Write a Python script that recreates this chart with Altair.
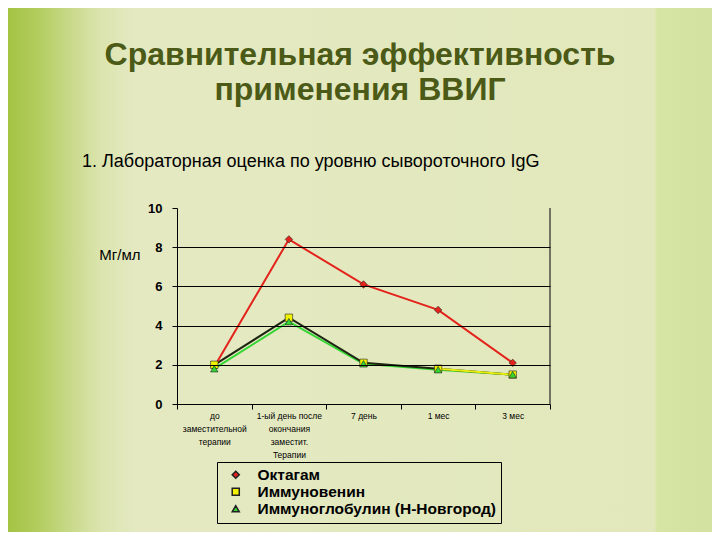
import altair as alt
import pandas as pd

# ---- data ----
CATEGORIES = [
    "до\nзаместительной\nтерапии",
    "1-ый день после\nокончания\nзаместит.\nТерапии",
    "7 день",
    "1 мес",
    "3 мес",
]
SERIES = ["Октагам", "Иммуновенин", "Иммуноглобулин (Н-Новгород)"]
OCTAGAM = [1.9, 8.4, 6.1, 4.8, 2.1]
IMMUNOVENIN = [2.0, 4.4, 2.1, 1.8, 1.5]
IMMUNOGLOBULIN = [1.8, 4.2, 2.05, 1.75, 1.5]
Y_TICKS = [0, 2, 4, 6, 8, 10]
YELLOW_SEGMENT = ["1 мес", "3 мес"]

TITLE_1 = "Сравнительная эффективность"
TITLE_2 = "применения ВВИГ"
SUBTITLE = "1. Лабораторная оценка по уровню сывороточного IgG"
Y_TITLE = "Мг/мл"

COLORS = ["#e3231c", "#f2f200", "#33d633"]
LINE_COLORS = ["#e3231c", "#1d2410", "#33d633"]
SHAPES = ["diamond", "square", "triangle-up"]

rows = []
for name, vals in zip(SERIES, [OCTAGAM, IMMUNOVENIN, IMMUNOGLOBULIN]):
    for c, v in zip(CATEGORIES, vals):
        rows.append({"series": name, "cat": c, "value": v})
df = pd.DataFrame(rows)

W, H = 373, 196
FONT = "Liberation Sans"

x_enc = alt.X(
    "cat:N",
    sort=CATEGORIES,
    scale=alt.Scale(type="band", paddingInner=0, paddingOuter=0),
    axis=alt.Axis(
        title=None, labelAngle=0, labelExpr="split(datum.label, '\\n')",
        labelFontSize=8.5, labelLineHeight=13, labelFont=FONT, labelColor="black",
        tickBand="extent", tickColor="black", tickSize=5, domainColor="black",
        labelPadding=2, grid=False, labelLimit=200, zindex=2,
    ),
)
y_scale = alt.Scale(domain=[0, 10], nice=False)
y_enc = alt.Y(
    "value:Q",
    scale=y_scale,
    axis=alt.Axis(
        values=Y_TICKS, title=Y_TITLE, titleAngle=0, titleX=-37, titleY=51,
        titleAlign="right", titleBaseline="alphabetic", titleFontWeight="normal",
        titleFontSize=15, titleFont=FONT, titleColor="black",
        labelFontSize=13, labelFontWeight="bold", labelFont=FONT, labelColor="black",
        labelPadding=10, tickSize=5, tickColor="black", domainColor="black",
        grid=True, gridWidth=1,
        gridColor={"condition": {"test": "datum.value <= 0 || datum.value >= 10",
                                 "value": "transparent"}, "value": "black"},
        labelFlush=False, labelOverlap=False, zindex=2,
    ),
)

one = alt.Data(values=[{"k": 1}])

bg = alt.Chart(one).mark_rect(
    fill=alt.Gradient(
        gradient="linear", x1=0, x2=1, y1=0, y2=0,
        stops=[
            alt.GradientStop(offset=0.0, color="#a4c444"),
            alt.GradientStop(offset=0.04, color="#b2cc5c"),
            alt.GradientStop(offset=0.08, color="#c4d782"),
            alt.GradientStop(offset=0.13, color="#dbe4ad"),
            alt.GradientStop(offset=0.18, color="#e4e9c2"),
            alt.GradientStop(offset=0.918, color="#e2e8bb"),
            alt.GradientStop(offset=0.922, color="#d6e4a4"),
            alt.GradientStop(offset=1.0, color="#d3e2a0"),
        ],
    )
).encode(
    x=alt.value(-169), x2=alt.value(535), y=alt.value(-200), y2=alt.value(324)
)

right_border = alt.Chart(one).mark_rule(color="black", strokeWidth=1).encode(
    x=alt.value(W), y=alt.value(0), y2=alt.value(H)
)

t1 = alt.Chart(one).mark_text(
    text=TITLE_1, font=FONT, fontSize=32, fontWeight="bold", color="#4b5a16",
    align="center", baseline="alphabetic",
).encode(x=alt.value(183), y=alt.value(-143))
t2 = alt.Chart(one).mark_text(
    text=TITLE_2, font=FONT, fontSize=32, fontWeight="bold", color="#4b5a16",
    align="center", baseline="alphabetic",
).encode(x=alt.value(183), y=alt.value(-108))
sub = alt.Chart(one).mark_text(
    text=SUBTITLE, font=FONT, fontSize=18, color="black",
    align="left", baseline="alphabetic",
).encode(x=alt.value(-95), y=alt.value(-41))

base = alt.Chart(df)

# one line layer per series, each with its own constant colour
line_layers = []
for name, lc in zip(SERIES[::-1], LINE_COLORS[::-1]):
    line_layers.append(
        base.transform_filter(alt.datum.series == name)
        .mark_line(strokeWidth=2, color=lc)
        .encode(x=x_enc, y=y_enc)
    )

# the last Иммуновенин segment appears yellow in the reference
yellow_seg = (
    base.transform_filter(alt.datum.series == SERIES[1])
    .transform_filter(alt.FieldOneOfPredicate(field="cat", oneOf=YELLOW_SEGMENT))
    .mark_line(strokeWidth=2, color="#e8ee10")
    .encode(x=x_enc, y=y_enc)
)

points = base.mark_point(filled=True, size=55, opacity=1, stroke="#222", strokeWidth=0.6).encode(
    x=x_enc, y=y_enc,
    color=alt.Color(
        "series:N", scale=alt.Scale(domain=SERIES, range=COLORS),
        legend=alt.Legend(title=None, orient="none", legendX=40, legendY=254, zindex=3),
    ),
    shape=alt.Shape("series:N", scale=alt.Scale(domain=SERIES, range=SHAPES)),
)

chart = alt.layer(bg, right_border, t1, t2, sub, *line_layers, yellow_seg, points).properties(
    width=W, height=H,
    autosize=alt.AutoSizeParams(type="none"),
    padding={"left": 169, "top": 200, "right": 162, "bottom": 128},
    background="#e3e8bd",
).configure_view(stroke=None).configure_legend(
    strokeColor="black", padding=5, labelFont=FONT, labelFontSize=15.5,
    labelFontWeight="bold", labelColor="black", symbolSize=50, rowPadding=0,
    labelLimit=400, symbolOffset=6, labelOffset=14,
)

chart.save("out.html", embed_options={"renderer": "svg", "actions": False})
